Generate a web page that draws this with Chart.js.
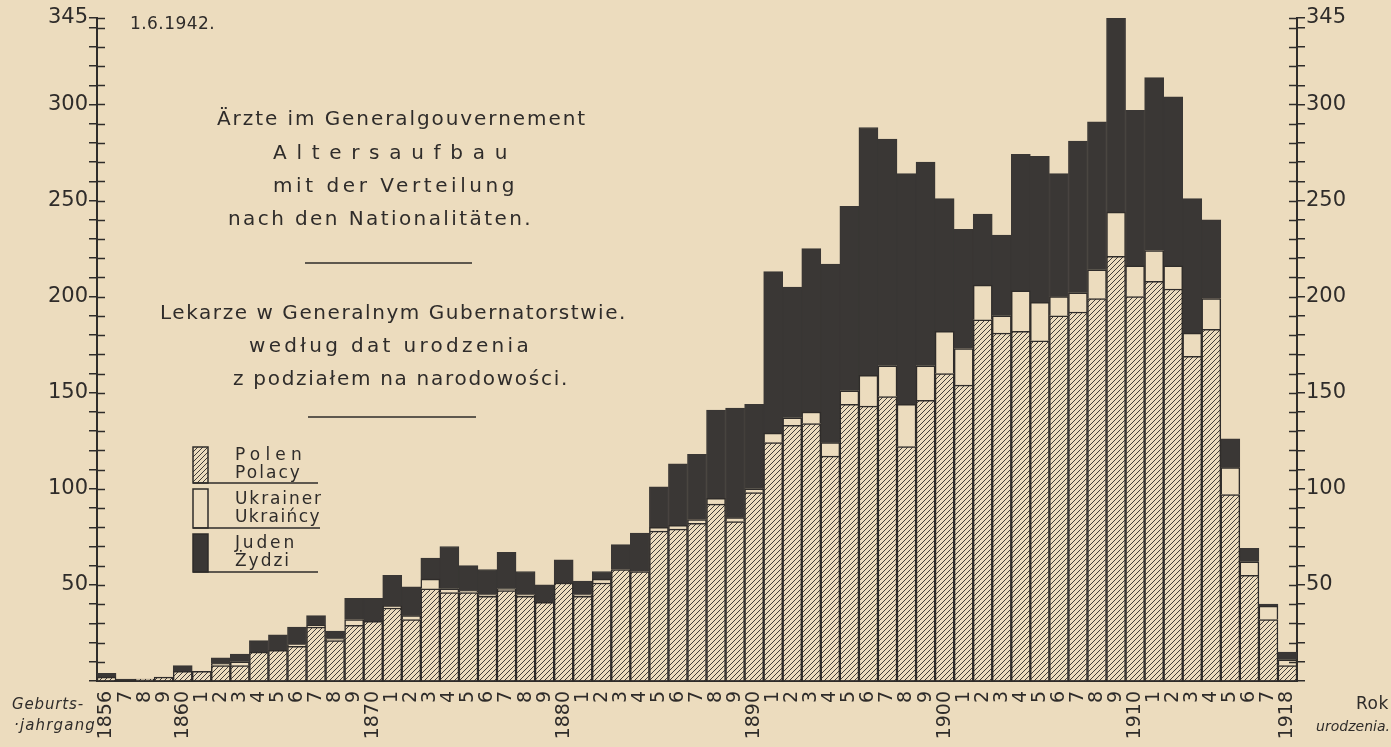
<!DOCTYPE html>
<html>
<head>
<meta charset="utf-8">
<script src="https://cdn.jsdelivr.net/npm/chart.js@4.4.1/dist/chart.umd.min.js"></script>
<style>
  body { margin: 0; background: #ecdcbe; }
  #wrap { width: 1391px; height: 747px; position: relative; }
</style>
</head>
<body>
<div id="wrap"><canvas id="myChart"></canvas></div>
<script>
// Years of birth (one bar per year)
var years = ["1856","1857","1858","1859","1860","1861","1862","1863","1864","1865","1866","1867","1868","1869",
  "1870","1871","1872","1873","1874","1875","1876","1877","1878","1879","1880","1881","1882","1883","1884",
  "1885","1886","1887","1888","1889","1890","1891","1892","1893","1894","1895","1896","1897","1898","1899",
  "1900","1901","1902","1903","1904","1905","1906","1907","1908","1909","1910","1911","1912","1913","1914",
  "1915","1916","1917","1918"];

// Labels written under the bars
var xTickLabels = ["1856","7","8","9","1860","1","2","3","4","5","6","7","8","9",
  "1870","1","2","3","4","5","6","7","8","9","1880","1","2","3","4",
  "5","6","7","8","9","1890","1","2","3","4","5","6","7","8","9",
  "1900","1","2","3","4","5","6","7","8","9","1910","1","2","3","4",
  "5","6","7","1918"];

// Doctors per year, by nationality
var polen = [2,0,1,2,5,5,8,8,15,16,18,28,21,29,31,38,32,48,46,46,44,47,44,41,51,44,51,58,57,
  78,79,82,92,83,98,124,133,134,117,144,143,148,122,146,160,154,188,181,182,177,190,192,199,221,
  200,208,204,169,183,97,55,32,8];
var ukrainer = [0,0,0,0,0,0,1,2,0,0,1,1,1,3,0,1,2,5,2,1,1,1,1,0,0,1,2,0,0,
  2,2,2,3,2,2,5,4,6,7,7,16,16,22,18,22,19,18,9,21,20,10,10,15,23,
  16,16,12,12,16,14,7,7,3];
var juden = [2,1,0,0,3,0,3,4,6,8,9,5,4,11,12,16,15,11,22,13,13,19,12,9,12,7,4,13,20,
  21,32,34,46,57,44,84,68,85,93,96,129,118,120,106,69,62,37,42,71,76,64,79,77,101,
  81,90,88,70,41,15,7,1,4];

// Y axis ticks: small marks every 10, numbers only on some
var yTickValues = [0,10,20,30,40,50,60,70,80,90,100,110,120,130,140,150,160,170,180,190,200,
  210,220,230,240,250,260,270,280,290,300,310,320,330,340,345];
var yLabelled = [50,100,150,200,250,300,345];

var paper = "#ecdcbe";
var ink = "#2f2c2a";
var blackBar = "#3a3735";

// Makes the diagonal hatching for the Polish part of the bars
function makeHatch() {
    var c = document.createElement("canvas");
    c.width = 5;
    c.height = 5;
    var g = c.getContext("2d");
    g.fillStyle = paper;
    g.fillRect(0, 0, 5, 5);
    g.strokeStyle = "#433e3a";
    g.lineWidth = 1;
    g.beginPath();
    g.moveTo(-1, 6); g.lineTo(6, -1);
    g.moveTo(-1, 1); g.lineTo(1, -1);
    g.moveTo(4, 6); g.lineTo(6, 4);
    g.stroke();
    return g.createPattern(c, "repeat");
}
var hatch = makeHatch();

// Draws a line of text stretched to a given width (letter spacing)
function fitText(ctx, txt, x, y, w, font) {
    ctx.font = font;
    ctx.letterSpacing = "0px";
    var m = ctx.measureText(txt).width;
    var sp = (w - m) / txt.length;
    ctx.letterSpacing = sp + "px";
    ctx.textAlign = "left";
    ctx.textBaseline = "middle";
    ctx.fillText(txt, x, y);
    ctx.letterSpacing = "0px";
}

// Paper colour behind everything
var paperPlugin = {
    id: "paper",
    beforeDraw: function (chart) {
        var ctx = chart.ctx;
        ctx.save();
        ctx.fillStyle = paper;
        ctx.fillRect(0, 0, chart.width, chart.height);
        ctx.restore();
    }
};

// Inner half of the crossing tick marks on both y axes
var crossTicks = {
    id: "crossTicks",
    afterDatasetsDraw: function (chart) {
        var ctx = chart.ctx;
        ctx.save();
        ctx.strokeStyle = ink;
        ctx.lineWidth = 1.5;
        ["y", "y2"].forEach(function (id) {
            var s = chart.scales[id];
            var x0 = id === "y" ? s.right : s.left;
            var dir = id === "y" ? 1 : -1;
            yTickValues.forEach(function (v) {
                if (v === 0) return;
                var py = Math.round(s.getPixelForValue(v)) + 0.5;
                ctx.beginPath();
                ctx.moveTo(x0, py);
                ctx.lineTo(x0 + dir * 8, py);
                ctx.stroke();
            });
        });
        ctx.restore();
    }
};

// Title, legend and the words at the bottom corners
var textPlugin = {
    id: "texts",
    afterDraw: function (chart) {
        var ctx = chart.ctx;
        ctx.save();
        ctx.fillStyle = ink;
        var f = "20px 'DejaVu Sans'";
        fitText(ctx, "1.6.1942.", 130, 25, 85, "17px 'DejaVu Sans'");
        fitText(ctx, "Ärzte im Generalgouvernement", 217, 120, 370, f);
        fitText(ctx, "Altersaufbau", 273, 154, 244, f);
        fitText(ctx, "mit der Verteilung", 273, 187, 245, f);
        fitText(ctx, "nach den Nationalitäten.", 228, 220, 305, f);
        fitText(ctx, "Lekarze w Generalnym Gubernatorstwie.", 160, 314, 467, f);
        fitText(ctx, "według dat urodzenia", 249, 347, 283, f);
        fitText(ctx, "z podziałem na narodowości.", 233, 380, 336, f);

        ctx.strokeStyle = ink;
        ctx.lineWidth = 1.5;
        ctx.beginPath();
        ctx.moveTo(305, 263); ctx.lineTo(472, 263);
        ctx.moveTo(308, 417); ctx.lineTo(476, 417);
        ctx.stroke();

        // legend
        var ds = chart.data.datasets;
        var rows = [
            { d: ds[0], top: 447, bot: 483, a: "Polen", b: "Polacy", wa: 72, wb: 67, end: 318 },
            { d: ds[1], top: 489, bot: 528, a: "Ukrainer", b: "Ukraińcy", wa: 88, wb: 86, end: 320 },
            { d: ds[2], top: 534, bot: 572, a: "Juden", b: "Żydzi", wa: 62, wb: 56, end: 318 }
        ];
        rows.forEach(function (r) {
            ctx.fillStyle = r.d.backgroundColor;
            ctx.fillRect(193, r.top, 15, r.bot - r.top);
            ctx.strokeStyle = ink;
            ctx.lineWidth = 1.5;
            ctx.strokeRect(193, r.top, 15, r.bot - r.top);
            ctx.beginPath();
            ctx.moveTo(193, r.bot);
            ctx.lineTo(r.end, r.bot);
            ctx.stroke();
            ctx.fillStyle = ink;
            var mid = (r.top + r.bot) / 2;
            fitText(ctx, r.a, 235, mid - 9, r.wa, "17px 'DejaVu Sans'");
            fitText(ctx, r.b, 235, mid + 9, r.wb, "17px 'DejaVu Sans'");
        });

        // axis words
        var fi = "italic 15px 'DejaVu Sans'";
        fitText(ctx, "Geburts-", 12, 705, 72, fi);
        fitText(ctx, "·jahrgang", 14, 726, 82, fi);
        fitText(ctx, "Rok", 1356, 705, 33, "17px 'DejaVu Sans'");
        fitText(ctx, "urodzenia.", 1316, 727, 74, "italic 14px 'DejaVu Sans'");
        ctx.restore();
    }
};

function yTicks(scale) {
    scale.ticks = yTickValues.map(function (v) { return { value: v }; });
}
function yLabel(v) {
    return yLabelled.indexOf(v) >= 0 ? String(v) : "";
}

var tickFont = { family: "DejaVu Sans", size: 21 };
var xFont = { family: "DejaVu Sans", size: 19 };

new Chart("myChart", {
    type: "bar",
    data: {
        labels: years,
        datasets: [
            { label: "Polen", data: polen, backgroundColor: hatch, borderColor: ink, borderWidth: 1.5 },
            { label: "Ukrainer", data: ukrainer, backgroundColor: paper, borderColor: ink, borderWidth: 1.5 },
            { label: "Juden", data: juden, backgroundColor: blackBar, borderColor: blackBar, borderWidth: 1 }
        ]
    },
    options: {
        responsive: true,
        maintainAspectRatio: false,
        animation: false,
        layout: { padding: { top: 18, left: 0, right: 0, bottom: 0 } },
        datasets: { bar: { categoryPercentage: 1, barPercentage: 1 } },
        plugins: { legend: { display: false }, tooltip: { enabled: false } },
        scales: {
            x: {
                stacked: true,
                grid: { display: false },
                border: { display: true, color: ink, width: 2 },
                ticks: {
                    autoSkip: false, maxRotation: 90, minRotation: 90, padding: 2,
                    color: ink, font: xFont,
                    callback: function (v, i) { return xTickLabels[i]; }
                },
                afterFit: function (s) { s.height = 66; }
            },
            y: {
                stacked: true,
                min: 0, max: 345,
                afterBuildTicks: yTicks,
                grid: { drawOnChartArea: false, color: ink, lineWidth: 1.5, tickLength: 8 },
                border: { color: ink, width: 2 },
                ticks: { autoSkip: false, padding: 1, color: ink, font: tickFont, callback: yLabel },
                afterFit: function (s) { s.width = 97; }
            },
            y2: {
                position: "right",
                min: 0, max: 345,
                afterBuildTicks: yTicks,
                grid: { drawOnChartArea: false, color: ink, lineWidth: 1.5, tickLength: 8 },
                border: { color: ink, width: 2 },
                ticks: { autoSkip: false, padding: 1, color: ink, font: tickFont, callback: yLabel },
                afterFit: function (s) { s.width = 94; }
            }
        }
    },
    plugins: [paperPlugin, crossTicks, textPlugin]
});
</script>
</body>
</html>
